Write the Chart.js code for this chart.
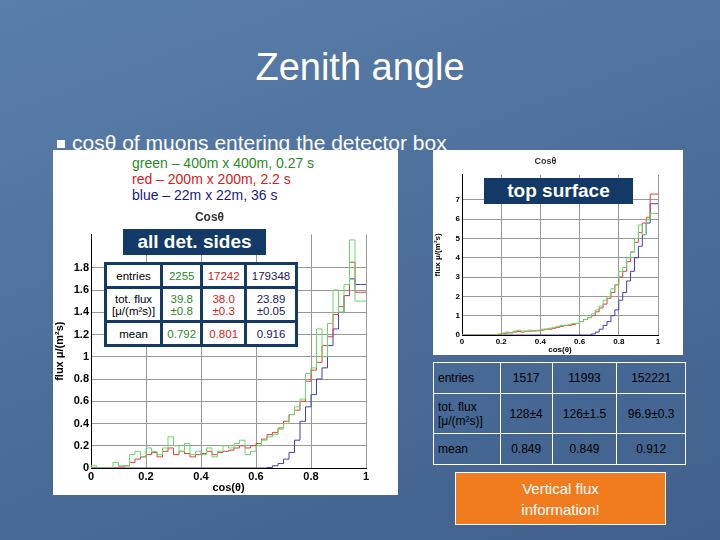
<!DOCTYPE html>
<html><head><meta charset="utf-8">
<script src="https://cdn.jsdelivr.net/npm/chart.js@4"></script>
<style>
body{margin:0;width:720px;height:540px;overflow:hidden;background:linear-gradient(160deg,#5a7eab,#4a6b98 60%,#41608c);font-family:Arial,"Liberation Sans",sans-serif;position:relative}
.abs{position:absolute}
#title{left:0;width:720px;top:46px;text-align:center;color:#fff;font-size:38px}
#bullet{left:72px;top:131px;color:#fff;font-size:21px}
#bsq{left:57px;top:140px;width:8px;height:8px;background:#fff}
#legend{left:53px;top:150px;width:345px;height:58px;background:#fff;font-size:14px;line-height:16px;padding-left:79px;box-sizing:border-box;padding-top:5px}
.panel{background:#fff}
.lab{background:#133a66;color:#fff;font-weight:bold;text-align:center}
table{border-collapse:collapse;font-size:11.5px;text-align:center}
#tl td{border:3px solid #133a66;padding:0 2px}
#tr td{border:1px solid #fff;color:#000;height:30px;padding:0 4px;font-size:12px}
#orange{left:455px;top:472px;width:211px;height:53px;background:#f07c1f;border:1px solid #fff;color:#fff;font-size:15px;text-align:center;line-height:21px;padding-top:5px;box-sizing:border-box}
</style></head><body>
<div class="abs" id="title">Zenith angle</div>
<div class="abs" id="bsq"></div>
<div class="abs" id="bullet">cosθ of muons entering the detector box</div>
<div class="abs" id="legend"><div style="color:#2a8a2a">green – 400m x 400m, 0.27 s</div><div style="color:#d42020">red – 200m x 200m, 2.2 s</div><div style="color:#1a1a80">blue – 22m x 22m, 36 s</div></div>
<div class="abs panel" style="left:53px;top:208px;width:345px;height:287px"><canvas id="cl" width="345" height="287"></canvas></div>
<div class="abs panel" style="left:433px;top:150px;width:250px;height:205px"><canvas id="cr" width="250" height="205"></canvas></div>
<div class="abs lab" style="left:123px;top:229px;width:143px;height:26px;font-size:19px;line-height:26px">all det. sides</div>
<div class="abs lab" style="left:484px;top:178px;width:149px;height:26px;font-size:19px;line-height:26px">top surface</div>
<table class="abs" id="tl" style="left:104px;top:262px;width:194px;background:#fff">
<tr style="height:24px"><td>entries</td><td style="color:#2a8a2a">2255</td><td style="color:#d42020">17242</td><td style="color:#1a1a60">179348</td></tr>
<tr style="height:34px"><td>tot. flux<br>[μ/(m²s)]</td><td style="color:#2a8a2a">39.8<br>±0.8</td><td style="color:#d42020">38.0<br>±0.3</td><td style="color:#1a1a60">23.89<br>±0.05</td></tr>
<tr style="height:24px"><td>mean</td><td style="color:#2a8a2a">0.792</td><td style="color:#d42020">0.801</td><td style="color:#1a1a60">0.916</td></tr>
</table>
<table class="abs" id="tr" style="left:433px;top:362px;width:253px">
<tr><td style="text-align:left">entries</td><td>1517</td><td>11993</td><td>152221</td></tr>
<tr style="height:40px"><td style="text-align:left">tot. flux<br>[μ/(m²s)]</td><td>128±4</td><td>126±1.5</td><td>96.9±0.3</td></tr>
<tr><td style="text-align:left">mean</td><td>0.849</td><td>0.849</td><td>0.912</td></tr>
</table>
<div class="abs" id="orange">Vertical flux<br>information!</div>
<script>
// bin contents, 50 bins of width 0.02 in cos(theta)
const binWidth = 0.02;
const leftGreen = [0,0.02,0,0,0, 0.05,0.02,0.02,0.12,0.15, 0.1,0.18,0.15,0.12,0.18, 0.28,0.2,0.15,0.22,0.12,
  0.15,0.12,0.18,0.1,0.15, 0.2,0.18,0.22,0.25,0.12, 0.15,0.2,0.25,0.28,0.3, 0.35,0.4,0.48,0.55,0.62,
  0.85,0.9,1.25,1.0,1.3, 1.6,1.4,1.65,2.05,1.5];
const leftRed = [0,0,0,0,0, 0,0.01,0.02,0.05,0.08, 0.1,0.12,0.14,0.1,0.15, 0.18,0.12,0.15,0.13,0.1,
  0.12,0.13,0.15,0.12,0.14, 0.15,0.16,0.18,0.2,0.18, 0.2,0.22,0.26,0.3,0.32, 0.36,0.42,0.48,0.52,0.6,
  0.78,0.88,0.95,1.1,1.18, 1.38,1.45,1.55,1.85,1.58];
const leftBlue = [0,0,0,0,0, 0,0,0,0,0, 0,0,0,0,0, 0,0,0,0,0, 0,0,0,0,0, 0,0,0,0,0, 0,0,0,0.005,0.02,
  0.04,0.08,0.14,0.25,0.42, 0.55,0.66,0.8,0.9,1.1, 1.25,1.4,1.55,1.7,1.65];
const rightGreen = [0,0,0,0,0, 0,0,0,0,0, 0.05,0.1,0.15,0.1,0.2, 0.25,0.2,0.2,0.25,0.2,
  0.25,0.3,0.3,0.35,0.4, 0.45,0.5,0.5,0.55,0.6, 0.6,0.7,0.8,0.9,1.1, 1.3,1.5,1.8,2.0,2.4,
  2.6,3.3,3.5,4.0,4.3, 5.0,5.7,5.2,6.0,6.3];
const rightRed = [0,0,0,0,0, 0,0,0,0,0, 0.03,0.06,0.1,0.12,0.15, 0.18,0.15,0.2,0.2,0.22,
  0.22,0.25,0.3,0.3,0.35, 0.4,0.45,0.5,0.5,0.55, 0.6,0.7,0.8,0.9,1.0, 1.2,1.4,1.6,1.9,2.2,
  2.6,3.0,3.3,3.8,4.3, 4.8,5.3,5.8,6.1,7.3];
const rightBlue = [0,0,0,0,0, 0,0,0,0,0, 0,0,0,0,0, 0,0,0,0,0, 0,0,0,0,0, 0,0,0,0,0, 0,0,0,0,0.05,
  0.15,0.3,0.5,0.7,1.0, 1.3,1.8,2.2,2.8,3.3, 4.0,4.6,5.2,5.8,6.8];
const xTicks = [0, 0.2, 0.4, 0.6, 0.8, 1];

function hist(vals) {
  const pts = vals.map((v, i) => ({ x: +(i * binWidth).toFixed(2), y: v }));
  pts.push({ x: 1, y: vals[vals.length - 1] });
  return pts;
}
function ds(vals, color) {
  return { data: hist(vals), borderColor: color, borderWidth: 1, stepped: "after", pointRadius: 0, fill: false };
}

function makeChart(id, g, r, b, yMax, yStep, f, yW, xH, pad) {
  const grid = { color: "#999", borderDash: [2, 3], drawTicks: false };
  new Chart(document.getElementById(id), {
    type: "line",
    data: { datasets: [ds(g, "#6ad66a"), ds(r, "#e04040"), ds(b, "#4040b0")] },
    options: {
      responsive: false, animation: false,
      layout: { padding: pad },
      plugins: { legend: { display: false }, tooltip: { enabled: false },
        title: { display: true, text: "Cosθ", color: "#333", font: { size: f + 1, weight: "bold" }, padding: { top: 0, bottom: pad.titleGap } } },
      scales: {
        x: { type: "linear", min: 0, max: 1, grid,
          border: { color: "#000" },
          afterBuildTicks: s => { s.ticks = xTicks.map(v => ({ value: v })); },
          ticks: { color: "#000", font: { size: f, weight: "bold" }, padding: 2, callback: v => String(+v.toFixed(1)) },
          title: { display: true, text: "cos(θ)", color: "#000", font: { size: f, weight: "bold" }, padding: 0 },
          afterFit: s => { s.height = xH; } },
        y: { min: 0, max: yMax, grid, border: { color: "#000" },
          afterBuildTicks: s => { s.ticks = s.ticks.filter(t => Math.abs(t.value / yStep - Math.round(t.value / yStep)) < 1e-6); },
          ticks: { stepSize: yStep, color: "#000", font: { size: f, weight: "bold" }, padding: 2, callback: v => String(+v.toFixed(1)) },
          title: { display: true, text: "flux μ/(m²s)", color: "#000", font: { size: f, weight: "bold" }, padding: 0 },
          afterFit: s => { s.width = yW; } }
      }
    }
  });
}
makeChart("cl", leftGreen, leftRed, leftBlue, 2.1, 0.2, 11, 38, 27, { left: 0, right: 32, top: 2, bottom: 0, titleGap: 10 });
makeChart("cr", rightGreen, rightRed, rightBlue, 8.3, 1, 8, 29, 20, { left: 0, right: 25, top: 6, bottom: 0, titleGap: 8 });
</script>
</body></html>
